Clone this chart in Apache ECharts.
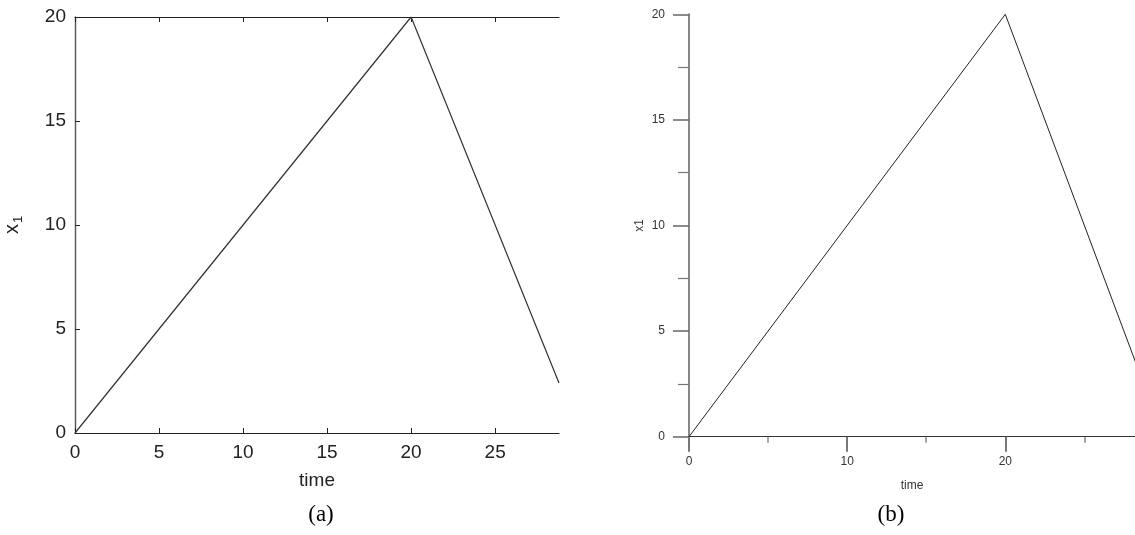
<!DOCTYPE html>
<html>
<head>
<meta charset="utf-8">
<script src="https://cdn.jsdelivr.net/npm/echarts@6/dist/echarts.min.js"></script>
<style>
  html, body { margin: 0; padding: 0; background: #fff; }
  #chart { width: 1135px; height: 535px; }
</style>
</head>
<body>
<div id="chart"></div>
<script>
// Sampled trajectory of x1 over time (vertices of the piecewise-linear run)
const time = [0, 20, 28.8];
const x1 = [0, 20, 2.4];

// Visible axis extents of the two panels
const panelATimeMax = 28.8;
const panelBTimeMax = 28.2;
const x1Max = 20;

// Tick positions
const panelATimeTicks = [0, 5, 10, 15, 20, 25];
const panelBTimeTicks = [0, 10, 20];
const panelBTimeMinorTicks = [5, 15, 25];

// Panel captions
const captions = ['(a)', '(b)'];

const points = time.map((t, i) => [t, x1[i]]);

const sans = 'Liberation Sans, Arial, sans-serif';
const serif = 'Liberation Serif, Times New Roman, serif';

const chart = echarts.init(document.getElementById('chart'), null, { renderer: 'canvas' });

chart.setOption({
  animation: false,
  backgroundColor: '#ffffff',
  title: [
    { text: captions[0], left: 316, top: 498, textAlign: 'center',
      textStyle: { fontFamily: serif, fontSize: 23, fontWeight: 'normal', color: '#000' } },
    { text: captions[1], left: 886, top: 498, textAlign: 'center',
      textStyle: { fontFamily: serif, fontSize: 23, fontWeight: 'normal', color: '#000' } }
  ],
  grid: [
    { left: 75, top: 17, width: 484, height: 416, containLabel: false },
    { left: 689, top: 14.3, width: 446, height: 422.4, containLabel: false },
    // companion grid for the minor time ticks of panel (b)
    { left: 689, top: 14.3, width: 446, height: 422.4, containLabel: false }
  ],
  xAxis: [
    // panel (a): bottom axis
    {
      type: 'value', gridIndex: 0, position: 'bottom',
      min: 0, max: panelATimeMax,
      name: 'time', nameLocation: 'middle', nameGap: 38,
      nameTextStyle: { fontFamily: sans, fontSize: 19, color: '#222' },
      axisLine: { show: true, onZero: false, lineStyle: { color: '#222', width: 1.2 } },
      axisTick: { show: true, inside: true, length: 5, customValues: panelATimeTicks,
        lineStyle: { color: '#222' } },
      axisLabel: { fontFamily: sans, fontSize: 19, color: '#222', margin: 10,
        customValues: panelATimeTicks },
      splitLine: { show: false }
    },
    // panel (a): top frame edge
    {
      type: 'value', gridIndex: 0, position: 'top',
      min: 0, max: panelATimeMax,
      axisLine: { show: true, onZero: false, lineStyle: { color: '#222', width: 1.2 } },
      axisTick: { show: true, inside: true, length: 5, customValues: panelATimeTicks,
        lineStyle: { color: '#222' } },
      axisLabel: { show: false },
      splitLine: { show: false }
    },
    // panel (b): main time axis
    {
      type: 'value', gridIndex: 1, position: 'bottom',
      min: 0, max: panelBTimeMax,
      name: 'time', nameLocation: 'middle', nameGap: 43,
      nameTextStyle: { fontFamily: sans, fontSize: 12, color: '#333' },
      axisLine: { show: true, onZero: false, lineStyle: { color: '#333', width: 1.2 } },
      axisTick: { show: true, inside: false, length: 15, customValues: panelBTimeTicks,
        lineStyle: { color: '#777', width: 2 } },
      axisLabel: { fontFamily: sans, fontSize: 12, color: '#333', margin: 19,
        customValues: panelBTimeTicks },
      splitLine: { show: false }
    },
    // panel (b): short in-between time ticks
    {
      type: 'value', gridIndex: 2, position: 'bottom',
      min: 0, max: panelBTimeMax,
      axisLine: { show: false },
      axisTick: { show: true, inside: false, length: 6, customValues: panelBTimeMinorTicks,
        lineStyle: { color: '#888', width: 1.5 } },
      axisLabel: { show: false },
      splitLine: { show: false }
    }
  ],
  yAxis: [
    // panel (a)
    {
      type: 'value', gridIndex: 0, position: 'left',
      min: 0, max: x1Max, interval: 5,
      name: '{v|x}{s|1}', nameLocation: 'middle', nameGap: 50, nameRotate: 90,
      nameTextStyle: {
        fontFamily: sans, color: '#222',
        rich: {
          v: { fontFamily: sans, fontSize: 20, color: '#222' },
          s: { fontFamily: sans, fontSize: 13, color: '#222', padding: [12, 0, 0, 1] }
        }
      },
      axisLine: { show: true, onZero: false, lineStyle: { color: '#555', width: 1.4 } },
      axisTick: { show: true, inside: true, length: 5, lineStyle: { color: '#222' } },
      axisLabel: { fontFamily: sans, fontSize: 19, color: '#222', margin: 9 },
      splitLine: { show: false }
    },
    // panel (b)
    {
      type: 'value', gridIndex: 1, position: 'left',
      min: 0, max: x1Max, interval: 5,
      name: 'x1', nameLocation: 'middle', nameGap: 43, nameRotate: 90,
      nameTextStyle: { fontFamily: sans, fontSize: 12, color: '#333' },
      axisLine: { show: true, onZero: false, lineStyle: { color: '#888', width: 2 } },
      axisTick: { show: true, inside: false, length: 16, lineStyle: { color: '#666', width: 1.5 } },
      minorTick: { show: true, splitNumber: 2, length: 11, lineStyle: { color: '#777', width: 1.2 } },
      axisLabel: { fontFamily: sans, fontSize: 12, color: '#333', margin: 24 },
      splitLine: { show: false }
    },
    // companion y axis for the minor-tick grid (hidden)
    {
      type: 'value', gridIndex: 2, show: false,
      min: 0, max: x1Max
    }
  ],
  series: [
    {
      type: 'line', xAxisIndex: 0, yAxisIndex: 0,
      data: points, showSymbol: false, symbol: 'none', clip: true,
      lineStyle: { color: '#333', width: 1.2 }
    },
    {
      type: 'line', xAxisIndex: 2, yAxisIndex: 1,
      data: points, showSymbol: false, symbol: 'none', clip: true,
      lineStyle: { color: '#222', width: 1 }
    }
  ]
});
</script>
</body>
</html>
